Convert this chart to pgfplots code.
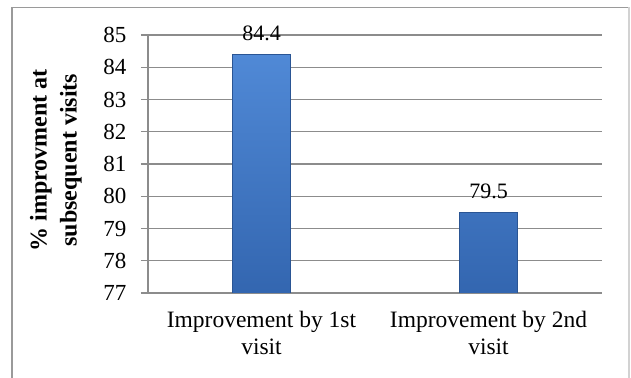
\documentclass[border=0pt]{standalone}
\usepackage{pgfplots}
\pgfplotsset{compat=1.18}
\usepackage{fontspec}
\setmainfont{Liberation Serif}

\definecolor{gridgray}{HTML}{8C8C8C}
\definecolor{framegray}{HTML}{9A9A9A}
\definecolor{bartop}{HTML}{5089D6}
\definecolor{barbottom}{HTML}{3366B0}
\definecolor{barline}{HTML}{2A5594}

\begin{document}
\begin{tikzpicture}
  \useasboundingbox (0,0) rectangle (631pt,377pt);
  % chart frame (open at the bottom)
  \draw[framegray, line width=1.2pt] (12pt,-2pt) -- (12pt,369.5pt) -- (629pt,369.5pt);
  \draw[framegray!45, line width=1.2pt] (629pt,369.5pt) -- (629pt,-2pt);

  \begin{axis}[
    at={(148pt,84pt)}, anchor=south west,
    scale only axis,
    width=454pt, height=258pt,
    xmin=-0.5, xmax=1.5,
    ymin=77, ymax=85,
    ytick={77,78,...,85},
    xtick={0,1},
    xticklabels={Improvement by 1st\\visit, Improvement by 2nd\\visit},
    axis x line*=bottom,
    axis y line*=left,
    axis line style={draw=gridgray, line width=1.2pt},
    ymajorgrids,
    grid style={draw=gridgray, line width=1.2pt},
    major tick style={draw=gridgray, line width=1.2pt},
    tick align=outside,
    xtick style={draw=none},
    major tick length=7pt,
    /pgf/number format/assume math mode=true,
    tick label style={font=\fontsize{23}{27}\selectfont},
    yticklabel style={anchor=east, xshift=-11pt},
    xticklabel style={font=\fontsize{23.5}{27}\selectfont, align=center, yshift=-8pt},
    ylabel={\% improvment at\\subsequent visits},
    ylabel style={font=\fontsize{24}{30}\selectfont\bfseries, align=center,
      at={(axis description cs:-0.203,0.515)}, anchor=center},
    nodes near coords,
    nodes near coords style={font=\fontsize{22}{26}\selectfont, yshift=10pt,
      /pgf/number format/.cd, fixed, precision=1, fixed zerofill, assume math mode=true},
  ]
    \addplot[ybar, bar width=58pt, bar shift=0pt,
      draw=barline, line width=0.8pt,
      shade, top color=bartop, bottom color=barbottom]
      coordinates {(0,84.4) (1,79.5)};
  \end{axis}
\end{tikzpicture}
\end{document}
